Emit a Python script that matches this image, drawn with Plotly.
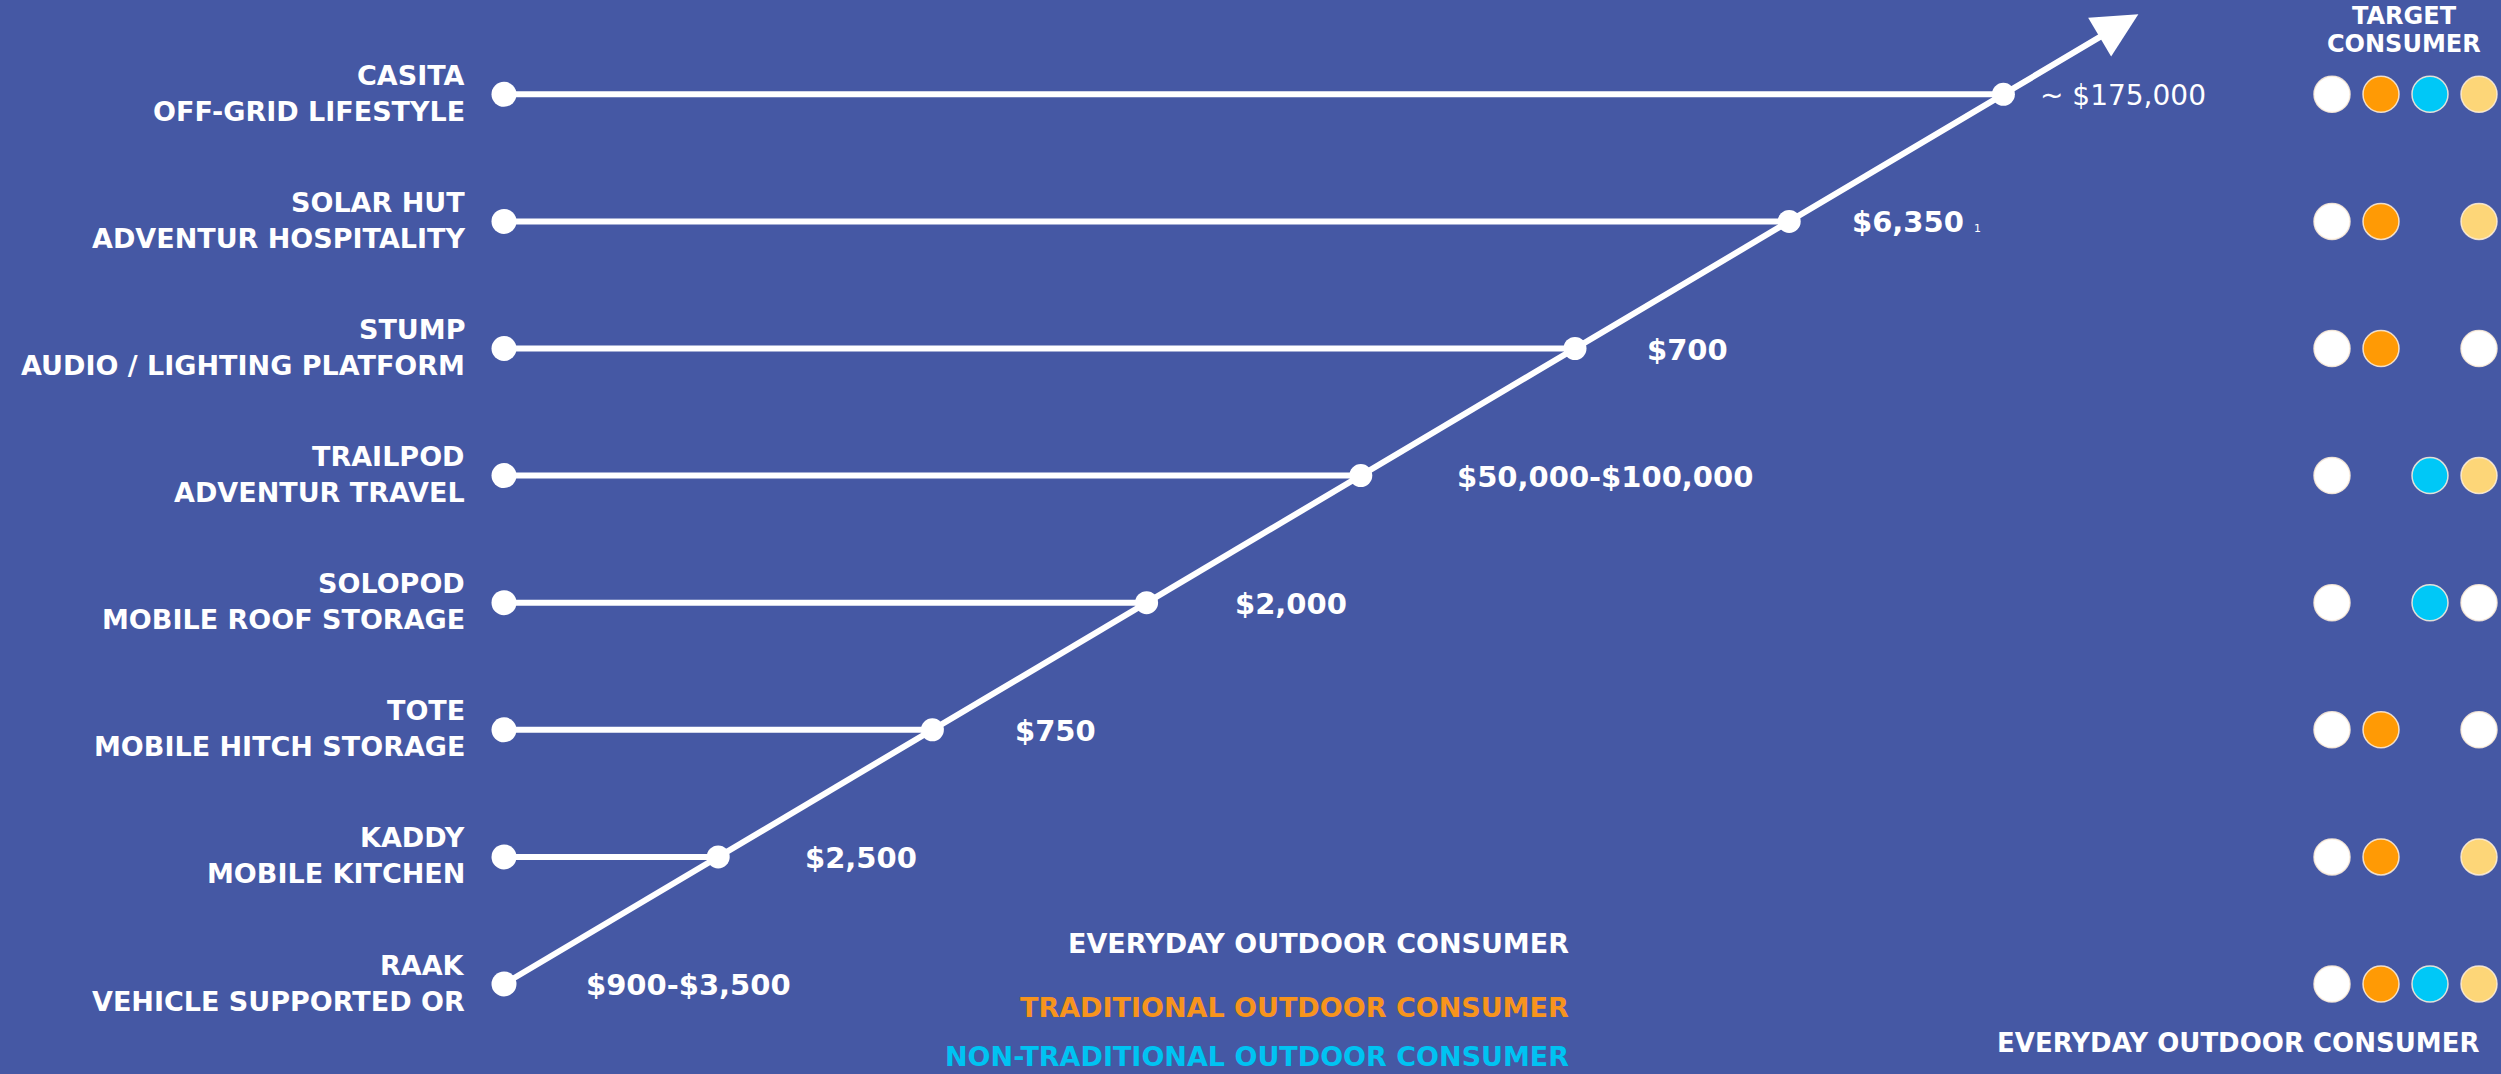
import plotly.graph_objects as go

# ---------------- data ----------------
products = ["RAAK", "KADDY", "TOTE", "SOLOPOD", "TRAILPOD", "STUMP", "SOLAR HUT", "CASITA"]
descriptions = [
    "VEHICLE SUPPORTED OR",
    "MOBILE KITCHEN",
    "MOBILE HITCH STORAGE",
    "MOBILE ROOF STORAGE",
    "ADVENTUR TRAVEL",
    "AUDIO / LIGHTING PLATFORM",
    "ADVENTUR HOSPITALITY",
    "OFF-GRID LIFESTYLE",
]
price_labels = ["$900-$3,500", "$2,500", "$750", "$2,000", "$50,000-$100,000", "$700", "$6,350", "~ $175,000"]
price_notes = ["", "", "", "", "", "", "1", ""]

# target consumer markers per product (4 slots, None = empty slot)
target_consumers = [
    ["everyday", "traditional", "non-traditional", "other"],   # RAAK
    ["everyday", "traditional", None, "other"],                # KADDY
    ["everyday", "traditional", None, "everyday"],             # TOTE
    ["everyday", None, "non-traditional", "everyday"],         # SOLOPOD
    ["everyday", None, "non-traditional", "other"],            # TRAILPOD
    ["everyday", "traditional", None, "everyday"],             # STUMP
    ["everyday", "traditional", None, "other"],                # SOLAR HUT
    ["everyday", "traditional", "non-traditional", "other"],   # CASITA
]
legend_names = ["EVERYDAY OUTDOOR CONSUMER", "TRADITIONAL OUTDOOR CONSUMER", "NON-TRADITIONAL OUTDOOR CONSUMER"]
legend_keys = ["everyday", "traditional", "non-traditional"]
target_title = ["TARGET", "CONSUMER"]
footer_text = "EVERYDAY OUTDOOR CONSUMER"

# ---------------- style ----------------
BG = "#4558A4"
WHITE = "#FFFFFF"
DOT_COLORS = {"everyday": "#FFFFFF", "traditional": "#FF9A05", "non-traditional": "#00C8F7", "other": "#FDD678"}
TEXT_COLORS = {"everyday": "#FFFFFF", "traditional": "#F7941D", "non-traditional": "#00C3F2"}
W, H = 2501, 1074
PX_X0, PX_DX = 504.0, 214.2      # pixel of rank 0, pixels per rank step (x)
PX_Y0, PX_DY = 984.0, 127.1      # pixel of row 0, pixels per row step (y)
XR = [(0 - PX_X0) / PX_DX, (W - PX_X0) / PX_DX]
YR = [(PX_Y0 - H) / PX_DY, PX_Y0 / PX_DY]
PRICE_NUDGE = [80, 85, 81, 86, 94, 70, 61, 35]
ARROW_END = 7.63
COL_X0, COL_STEP = (2332 - PX_X0) / PX_DX, 49.0 / PX_DX

ranks = list(range(len(products)))
fig = go.Figure()

# horizontal connectors
hx, hy = [], []
for r in ranks[1:]:
    hx += [0, r, None]
    hy += [r, r, None]
fig.add_trace(go.Scatter(x=hx, y=hy, mode="lines", line=dict(color=WHITE, width=6),
                         hoverinfo="skip", showlegend=False))
# diagonal line
fig.add_trace(go.Scatter(x=ranks, y=ranks, mode="lines", line=dict(color=WHITE, width=6),
                         hoverinfo="skip", showlegend=False))
# left dots
fig.add_trace(go.Scatter(x=[0] * len(ranks), y=ranks, mode="markers",
                         marker=dict(color=WHITE, size=25, line=dict(width=0)),
                         hoverinfo="skip", showlegend=False))
# diagonal dots
fig.add_trace(go.Scatter(x=ranks[1:], y=ranks[1:], mode="markers",
                         marker=dict(color=WHITE, size=23, line=dict(width=0)),
                         hoverinfo="skip", showlegend=False))

# target consumer dots
for key, col in DOT_COLORS.items():
    xs, ys = [], []
    for r, row in zip(ranks, target_consumers):
        for j, v in enumerate(row):
            if v == key:
                xs.append(COL_X0 + j * COL_STEP)
                ys.append(r)
    fig.add_trace(go.Scatter(x=xs, y=ys, mode="markers",
                             marker=dict(color=col, size=36,
                                         line=dict(color="rgba(255,240,220,0.85)", width=1.5)),
                             hoverinfo="skip", showlegend=False))

ann = []
# arrow
ann.append(dict(x=ARROW_END, y=ARROW_END, ax=ranks[-1], ay=ranks[-1], xref="x", yref="y",
                axref="x", ayref="y", text="", showarrow=True, arrowhead=2, arrowsize=1.5,
                arrowwidth=6, arrowcolor=WHITE, standoff=0))

bold = dict(family="DejaVu Sans", color=WHITE, size=27, weight="bold")
for r in ranks:
    ann.append(dict(x=0, y=r, xref="x", yref="y", text=products[r], showarrow=False,
                    xanchor="right", yanchor="middle", xshift=-37, yshift=19, font=bold))
    ann.append(dict(x=0, y=r, xref="x", yref="y", text=descriptions[r], showarrow=False,
                    xanchor="right", yanchor="middle", xshift=-37, yshift=-17, font=bold))
    txt = price_labels[r]
    if price_notes[r]:
        txt += " <span style='font-size:11px;font-weight:normal'>" + price_notes[r] + "</span>"
    f = dict(family="DejaVu Sans", color=WHITE, size=29, weight="bold")
    if txt.startswith("~"):
        f = dict(family="DejaVu Sans", color=WHITE, size=28, weight="normal")
    ann.append(dict(x=r, y=r, xref="x", yref="y", text=txt, showarrow=False,
                    xanchor="left", yanchor="middle", xshift=PRICE_NUDGE[r], yshift=-1, font=f))

# centre legend texts
legend_y = [1 - 943 / H, 1 - 1007 / H, 1 - 1056 / H]
for name, key, yy in zip(legend_names, legend_keys, legend_y):
    ann.append(dict(x=1571 / W, y=yy, xref="paper", yref="paper", text=name, showarrow=False,
                    xanchor="right", yanchor="middle",
                    font=dict(family="DejaVu Sans", color=TEXT_COLORS[key], size=27, weight="bold")))

# target consumer header + footer
medium = dict(family="DejaVu Sans", color=WHITE, size=24, weight="bold")
for line, py in zip(target_title, [16, 44]):
    ann.append(dict(x=2404 / W, y=1 - py / H, xref="paper", yref="paper", text=line,
                    showarrow=False, xanchor="center", yanchor="middle", font=medium))
ann.append(dict(x=2481 / W, y=1 - 1043 / H, xref="paper", yref="paper", text=footer_text,
                showarrow=False, xanchor="right", yanchor="middle",
                font=dict(family="DejaVu Sans", color=WHITE, size=26, weight="bold")))

fig.update_layout(
    width=W, height=H, margin=dict(l=0, r=0, t=0, b=0),
    paper_bgcolor=BG, plot_bgcolor=BG,
    xaxis=dict(range=XR, visible=False, fixedrange=True),
    yaxis=dict(range=YR, visible=False, fixedrange=True),
    annotations=ann, showlegend=False,
)
fig.write_html("out.html")
